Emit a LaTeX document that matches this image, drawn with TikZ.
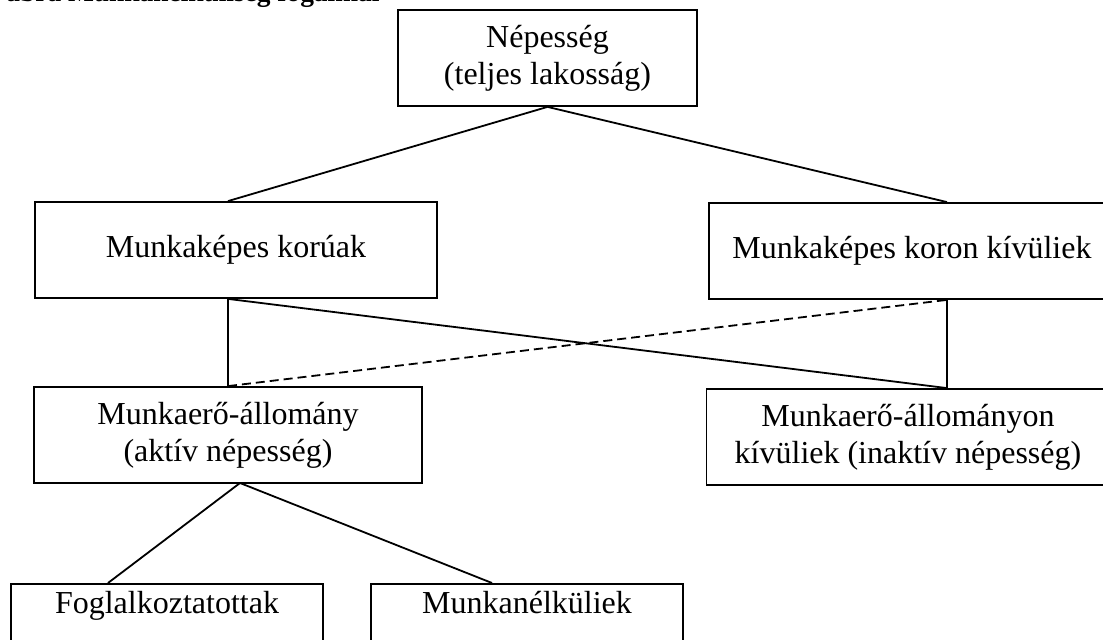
\documentclass[tikz,border=0pt]{standalone}
\usepackage{fontspec}
\setmainfont{Liberation Serif}
\begin{document}
\begin{tikzpicture}[x=0.5pt, y=-0.5pt, line width=0.9pt]
	\tikzstyle{place}=[rectangle, draw=black, inner sep=0pt, minimum height=48pt, align=center, font=\fontsize{16}{18.5}\selectfont]
	\tikzstyle{leaf}=[place, anchor=north, minimum height=0pt, text height=15pt, text depth=60pt]
	\useasboundingbox (0,0) rectangle (1103,640);
	\draw node[anchor=base east, font=\bfseries\fontsize{13.7}{16}\selectfont] at (387,2) (title) {1. ábra Munkanélküliség fogalmai};
	\draw node[place, minimum width=149.5pt] at (547.5,58) (nep) {Népesség\\(teljes lakosság)};
	\draw node[place, minimum width=201pt] at (236,250) (kor) {Munkaképes korúak};
	\draw node[place, minimum width=203pt] at (912,251) (kiv) {Munkaképes koron kívüliek};
	\draw node[place, minimum width=194pt] at (228,435) (akt) {Munkaerő-állomány\\(aktív népesség)};
	\draw node[place, minimum width=201.5pt] at (908,437) (ina) {Munkaerő-állományon\\kívüliek (inaktív népesség)};
	\draw node[leaf, minimum width=156pt] at (167,583) (fog) {Foglalkoztatottak};
	\draw node[leaf, minimum width=156pt] at (527,583) (mun) {Munkanélküliek};

	\coordinate (rx) at (947,0);
	\coordinate (aktBot) at (240,483);
	\coordinate (fogTop) at (108,583);
	\coordinate (munTop) at (492,583);

	\draw (nep.south) -- (kor.north -| akt.north);
	\draw (nep.south) -- (kiv.north -| rx);
	\draw (kor.south -| akt.north) -- (akt.north);
	\draw (kor.south -| akt.north) -- (ina.north -| rx);
	\draw [dash pattern=on 4.5pt off 2.5pt] (akt.north) -- (kiv.south -| rx);
	\draw (kiv.south -| rx) -- (ina.north -| rx);
	\draw (aktBot) -- (fogTop);
	\draw (aktBot) -- (munTop);
\end{tikzpicture}
\end{document}
